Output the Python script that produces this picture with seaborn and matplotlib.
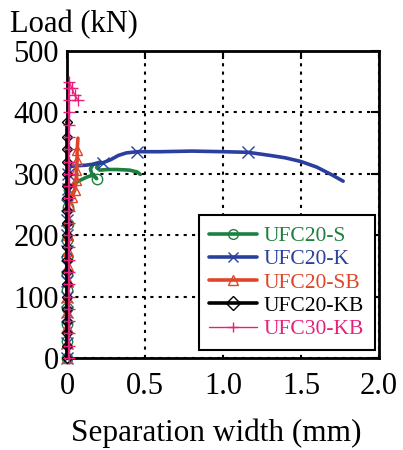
import numpy as np
import pandas as pd
import seaborn as sns
import matplotlib
matplotlib.use("Agg")
import matplotlib.pyplot as plt

# Load vs. separation width for each specimen
s_width = [0, 0, 0, 0, 0, 0, 0.002, 0.003, 0.005, 0.008, 0.012, 0.04, 0.08, 0.13,
           0.17, 0.19, 0.16, 0.15, 0.17, 0.21, 0.19, 0.21, 0.26, 0.32, 0.40, 0.45, 0.47]
s_load = [0, 28, 55, 82, 110, 137, 164, 192, 219, 246, 274, 283, 289, 295,
          298, 292, 300, 308, 316, 319, 310, 306, 307, 307, 306, 303, 299]

k_width = [0, 0, 0, 0, 0, 0, 0, 0.001, 0.002, 0.002, 0.003, 0.004, 0.005, 0.02,
           0.06, 0.12, 0.18, 0.23, 0.28, 0.33, 0.38, 0.45, 0.60, 0.80, 1.00, 1.16,
           1.30, 1.40, 1.50, 1.60, 1.70, 1.77]
k_load = [0, 25, 50, 75, 100, 125, 150, 175, 200, 225, 250, 275, 300, 312,
          313, 314, 316, 318, 323, 330, 334, 336, 336, 337, 336, 335,
          330, 326, 320, 311, 298, 288]

sb_width = [0, 0, 0.001, 0.002, 0.003, 0.004, 0.005, 0.006, 0.007, 0.008, 0.01,
            0.03, 0.05, 0.06, 0.06, 0.065, 0.065, 0.07]
sb_load = [0, 25, 50, 75, 100, 125, 150, 175, 200, 225, 250,
           262, 273, 290, 306, 322, 338, 358]

kb_width = [0] * 20
kb_load = [0, 20, 40, 60, 80, 100, 120, 140, 160, 180, 200, 220, 240, 260,
           280, 300, 320, 340, 360, 385]

kb30_width = [0.01] * 23 + [0.015, 0.03, 0.05, 0.07]
kb30_load = [0, 20, 40, 60, 80, 100, 120, 140, 160, 180, 200, 220, 240, 260,
             280, 300, 320, 340, 360, 380, 400, 420, 440, 449, 440, 428, 420]

series = [
    ("UFC20-S", s_width, s_load, "#1e8040", "o", 2.6, list(range(0, 11)) + [15]),
    ("UFC20-K", k_width, k_load, "#2b3f9e", "x", 2.6, list(range(0, 13)) + [17, 21, 25]),
    ("UFC20-SB", sb_width, sb_load, "#e0452a", "^", 2.6, list(range(0, 17))),
    ("UFC20-KB", kb_width, kb_load, "#000000", "D", 2.6, list(range(0, 20))),
    ("UFC30-KB", kb30_width, kb30_load, "#e8207a", "+", 1.0, list(range(0, 27))),
]

sns.set_theme(style="white")
plt.rcParams["font.family"] = ["Liberation Serif", "DejaVu Serif"]

fig = plt.figure(figsize=(4.03, 4.5), dpi=100)
ax = fig.add_axes([67 / 403, 92 / 450, 312 / 403, 307 / 450])

marker_sizes = {"o": 7.5, "x": 8.5, "^": 7.5, "D": 5.5, "+": 9}

for name, xs, ys, color, mk, lw, every in series:
    df = pd.DataFrame({"w": xs, "load": ys})
    sns.lineplot(data=df, x="w", y="load", ax=ax, sort=False, estimator=None,
                 color=color, lw=lw, marker=mk, markevery=every,
                 markersize=marker_sizes[mk], markerfacecolor="none",
                 markeredgecolor=color, markeredgewidth=1.0,
                 clip_on=False, label=name, zorder=3)

ax.set_xlim(0, 2.0)
ax.set_ylim(0, 500)
ax.set_xticks([0, 0.5, 1.0, 1.5, 2.0])
ax.set_xticklabels(["0", "0.5", "1.0", "1.5", "2.0"])
ax.set_yticks([0, 100, 200, 300, 400, 500])
ax.set_yticklabels(["0", "100", "200", "300", "400", "500"])
ax.tick_params(direction="in", length=6, width=1.5, top=True, right=True,
               labelsize=22, colors="black", pad=6)
ax.tick_params(axis="x", pad=10)
ax.grid(True, color="black", linestyle=(0, (1.5, 2.5)), linewidth=1.5)
for sp in ax.spines.values():
    sp.set_visible(True)
    sp.set_color("black")
    sp.set_linewidth(2.0)
ax.set_xlabel("")
ax.set_ylabel("")

fig.text(10 / 403, 1 - 32 / 450, "Load (kN)", fontsize=22, va="baseline",
         ha="left", color="black")
fig.text(216 / 403, 1 - 441 / 450, "Separation width (mm)", fontsize=22.5,
         va="baseline", ha="center", color="black")

leg = ax.legend(loc="lower right", bbox_to_anchor=(0.987, 0.026),
                fontsize=15.5, handlelength=2.2, labelspacing=0.15,
                numpoints=1, frameon=True, fancybox=False, borderpad=0.5,
                handletextpad=0.33, borderaxespad=0)
leg.get_frame().set_edgecolor("black")
leg.get_frame().set_linewidth(1.5)
leg.get_frame().set_alpha(1)
for txt, (_, _, _, color, _, _, _) in zip(leg.get_texts(), series):
    txt.set_color(color)
for ln in leg.get_lines():
    ln.set_markersize(7)
leg.set_zorder(5)

fig.savefig("out.png", dpi=100)
